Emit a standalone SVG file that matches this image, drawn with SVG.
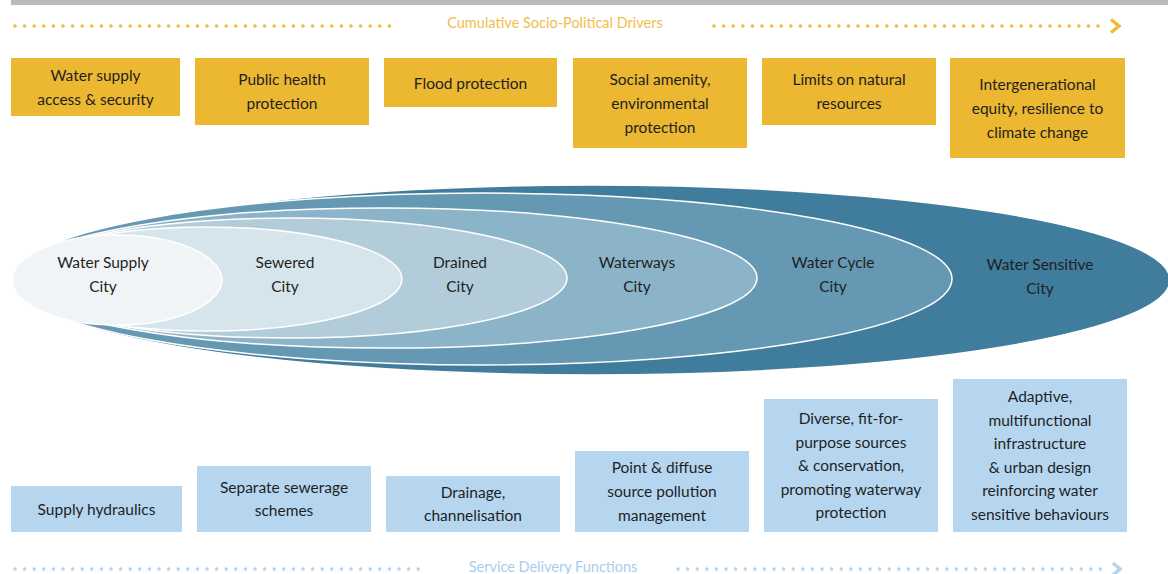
<svg xmlns="http://www.w3.org/2000/svg" width="1168" height="574" viewBox="0 0 1168 574">
<style>
text{font-family:"Lato","Liberation Sans",sans-serif;font-size:15.5px;fill:#1f1f1f;text-anchor:middle}
.drv rect{fill:#ECB731}
.svc rect{fill:#B6D6F0}
.ell{stroke:#ffffff;stroke-width:1.5}
.dotY{stroke:#F2BA3A;stroke-width:3.6;stroke-linecap:round;stroke-dasharray:0 9.6;fill:none}
.dotB{stroke:#B3D3F0;stroke-width:3.6;stroke-linecap:round;stroke-dasharray:0 9.6;fill:none}
.hdY{fill:#F2BD4A;font-size:14.5px}
.hdB{fill:#A9CDEE;font-size:14.5px}
</style>
<rect x="11" y="0" width="1157" height="5" fill="#BBBBBB"/>
<g id="connectors">
<line class="dotY" x1="15" y1="26" x2="398" y2="26"/>
<line class="dotY" x1="714" y1="26" x2="1106" y2="26"/>
<polyline points="1111,19.5 1119,26 1111,32.5" fill="none" stroke="#F2BA3A" stroke-width="3.5"/>
<line class="dotB" x1="15" y1="569" x2="425" y2="569"/>
<line class="dotB" x1="678" y1="569" x2="1108" y2="569"/>
<polyline points="1113,563 1120,569 1113,575" fill="none" stroke="#B3D3F0" stroke-width="3.5"/>
</g>
<text class="hdY" x="555" y="28">Cumulative Socio-Political Drivers</text>
<text class="hdB" x="553" y="572">Service Delivery Functions</text>

<g id="city-water-sensitive"><ellipse class="ell" cx="591" cy="280" rx="579" ry="95" fill="#407D9C"/><text x="1040" y="270">Water Sensitive</text><text x="1040" y="294">City</text></g>
<g id="city-water-cycle"><ellipse class="ell" cx="482" cy="279" rx="470" ry="86" fill="#6598B2"/><text x="833" y="268">Water Cycle</text><text x="833" y="292">City</text></g>
<g id="city-waterways"><ellipse class="ell" cx="384.5" cy="278" rx="372.5" ry="70" fill="#8CB4C8"/><text x="637" y="268">Waterways</text><text x="637" y="292">City</text></g>
<g id="city-drained"><ellipse class="ell" cx="289.5" cy="278" rx="277.5" ry="60" fill="#B2CDD9"/><text x="460" y="268">Drained</text><text x="460" y="292">City</text></g>
<g id="city-sewered"><ellipse class="ell" cx="207" cy="279" rx="195" ry="52" fill="#D6E5EC"/><text x="285" y="268">Sewered</text><text x="285" y="292">City</text></g>
<g id="city-water-supply"><ellipse class="ell" cx="117" cy="280" rx="105" ry="45" fill="#F0F4F7"/><text x="103" y="268">Water Supply</text><text x="103" y="292">City</text></g>

<g id="drv-1" class="drv"><rect x="11" y="58" width="169" height="58"/><text x="95.5" y="81">Water supply</text><text x="95.5" y="105">access &amp; security</text></g>
<g id="drv-2" class="drv"><rect x="195" y="58" width="174" height="67"/><text x="282" y="85">Public health</text><text x="282" y="109">protection</text></g>
<g id="drv-3" class="drv"><rect x="384" y="58" width="173" height="49"/><text x="470.5" y="89">Flood protection</text></g>
<g id="drv-4" class="drv"><rect x="573" y="58" width="174" height="90"/><text x="660" y="85">Social amenity,</text><text x="660" y="109">environmental</text><text x="660" y="133">protection</text></g>
<g id="drv-5" class="drv"><rect x="762" y="58" width="174" height="67"/><text x="849" y="85">Limits on natural</text><text x="849" y="109">resources</text></g>
<g id="drv-6" class="drv"><rect x="950" y="58" width="175" height="100"/><text x="1037.5" y="90">Intergenerational</text><text x="1037.5" y="114">equity, resilience to</text><text x="1037.5" y="138">climate change</text></g>

<g id="svc-1" class="svc"><rect x="11" y="486" width="171" height="46"/><text x="96.5" y="515">Supply hydraulics</text></g>
<g id="svc-2" class="svc"><rect x="197" y="466" width="174" height="66"/><text x="284" y="493">Separate sewerage</text><text x="284" y="516">schemes</text></g>
<g id="svc-3" class="svc"><rect x="386" y="476" width="174" height="56"/><text x="473" y="498">Drainage,</text><text x="473" y="521">channelisation</text></g>
<g id="svc-4" class="svc"><rect x="575" y="451" width="174" height="81"/><text x="662" y="473">Point &amp; diffuse</text><text x="662" y="497">source pollution</text><text x="662" y="521">management</text></g>
<g id="svc-5" class="svc"><rect x="764" y="399" width="174" height="133"/><text x="851" y="424">Diverse, fit-for-</text><text x="851" y="448">purpose sources</text><text x="851" y="471">&amp; conservation,</text><text x="851" y="495">promoting waterway</text><text x="851" y="518">protection</text></g>
<g id="svc-6" class="svc"><rect x="953" y="379" width="174" height="153"/><text x="1040" y="402">Adaptive,</text><text x="1040" y="426">multifunctional</text><text x="1040" y="449">infrastructure</text><text x="1040" y="473">&amp; urban design</text><text x="1040" y="496">reinforcing water</text><text x="1040" y="520">sensitive behaviours</text></g>
</svg>
